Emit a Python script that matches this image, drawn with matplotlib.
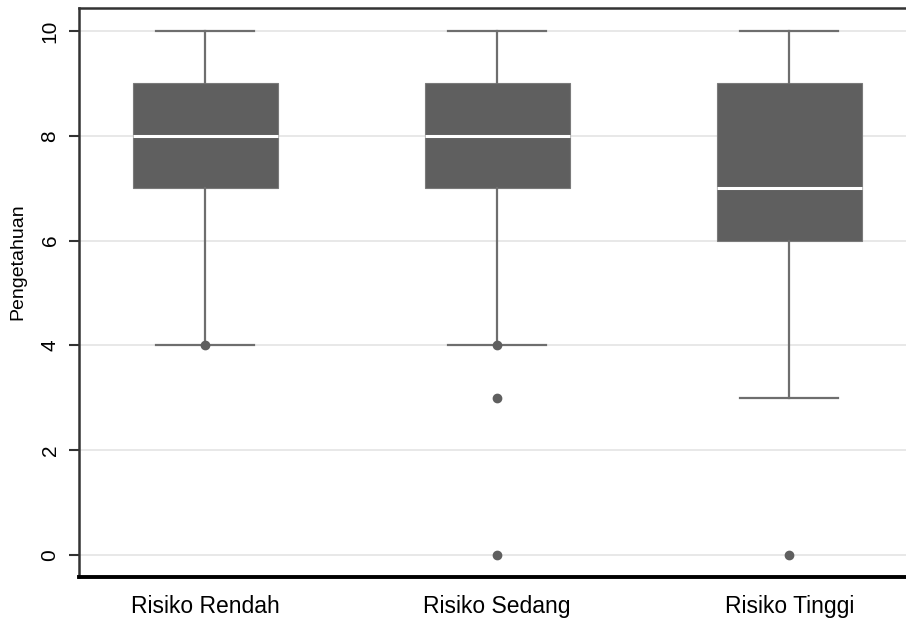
import matplotlib.pyplot as plt
import matplotlib as mpl

mpl.rcParams['font.family'] = ['Liberation Sans', 'DejaVu Sans']

# box summaries per risk group
groups = ['Risiko Rendah', 'Risiko Sedang', 'Risiko Tinggi']
whislo = [4, 4, 3]
q1 = [7, 7, 6]
med = [8, 8, 7]
q3 = [9, 9, 9]
whishi = [10, 10, 10]
fliers = [[4], [4, 3, 0], [0]]

stats = []
for i, name in enumerate(groups):
    stats.append(dict(label=name, whislo=whislo[i], q1=q1[i], med=med[i],
                      q3=q3[i], whishi=whishi[i], fliers=fliers[i]))

fig = plt.figure(figsize=(9.06, 6.18), dpi=100)
ax = fig.add_axes([0.0872, 0.0663, 0.9128, 0.921])

box_col = '#5f5f5f'
line_col = '#6e6e6e'
ax.bxp(stats, positions=[1, 2, 3], widths=0.497, patch_artist=True,
       boxprops=dict(facecolor=box_col, edgecolor='#7a7a7a', linewidth=0.8),
       medianprops=dict(color='white', linewidth=2.2),
       whiskerprops=dict(color=line_col, linewidth=1.6),
       capprops=dict(color=line_col, linewidth=1.6),
       capwidths=0.336,
       flierprops=dict(marker='o', markerfacecolor=box_col, markeredgecolor=box_col,
                       markersize=6))

ax.set_xlim(0.568, 3.40)
ax.set_ylim(-0.42, 10.44)
ax.set_yticks([0, 2, 4, 6, 8, 10])
ax.set_yticklabels(['0', '2', '4', '6', '8', '10'], rotation=90, va='center', fontsize=15)
ax.tick_params(axis='y', length=7, width=1.5, color='#333333', pad=7)
ax.tick_params(axis='x', length=0, pad=13, labelsize=16.5)
ax.set_ylabel('Pengetahuan', fontsize=14, va='center')
ax.yaxis.set_label_coords(-0.0738, 0.554)

ax.grid(axis='y', color='#e4e4e4', linewidth=1.2)
ax.set_axisbelow(True)

ax.spines['bottom'].set_linewidth(2.8)
ax.spines['bottom'].set_color('black')
ax.spines['left'].set_linewidth(1.8)
ax.spines['left'].set_color('#333333')
ax.spines['top'].set_linewidth(1.8)
ax.spines['top'].set_color('#333333')
ax.spines['right'].set_visible(False)

fig.savefig('out.png', dpi=100)
